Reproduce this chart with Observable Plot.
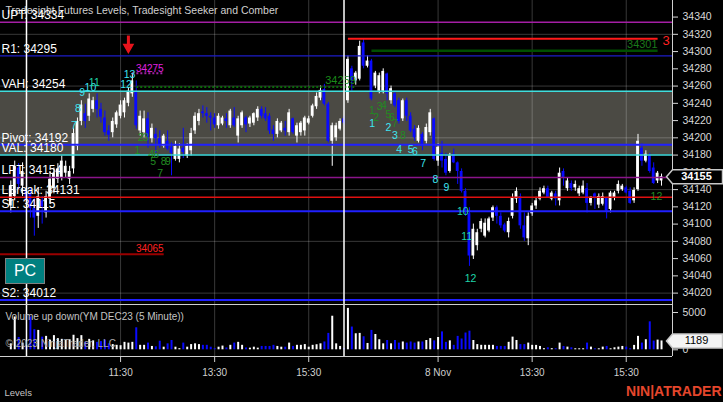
<!DOCTYPE html>
<html><head><meta charset="utf-8">
<script src="https://cdn.jsdelivr.net/npm/d3@7"></script>
<script src="https://cdn.jsdelivr.net/npm/@observablehq/plot@0.6"></script>
<style>
html,body{margin:0;padding:0;background:#000;}
#wrap{position:relative;width:723px;height:402px;overflow:hidden;background:#000;}
#wrap svg{display:block;}
#pc{position:absolute;z-index:2;left:5px;top:258px;width:40px;height:26px;background:#008080;border:1px solid #808080;color:#fff;font:16px "Liberation Sans",Arial,sans-serif;display:flex;align-items:center;justify-content:center;box-sizing:border-box;}
</style></head><body><div id="wrap"><div id="pc">PC</div></div>
<script>
// ---------- DATA ----------
const firstBar = -4; // bar index of first candle (index 0 = 9:30 Nov 7, 5-minute bars)
const opens = [
34121,34132,34165,34144,34138,34135,34118,34109,34127,34113,
34129,34141,34152,34154,34159,34152,34164,34190,34219,34228,
34225,34233,34243,34233,34223,34208,34206,34215,34225,34229,
34240,34251,34254,34208,34206,34222,34199,34204,34199,34190,
34196,34189,34175,34175,34188,34179,34185,34208,34219,34230,
34228,34225,34223,34214,34216,34222,34214,34223,34202,34214,
34223,34216,34217,34223,34233,34228,34225,34209,34204,34208,
34211,34206,34222,34202,34206,34208,34217,34225,34236,34246,
34256,34239,34196,34200,34210,34222,34243,34280,34266,34268,
34310,34283,34289,34260,34254,34254,34274,34243,34251,34243,
34222,34243,34225,34210,34196,34204,34196,34206,34222,34173,
34182,34175,34161,34181,34171,34161,34138,34112,34063,34075,
34094,34086,34092,34107,34119,34109,34099,34090,34109,34129,
34132,34098,34083,34112,34121,34129,34136,34141,34129,34135,
34127,34161,34141,34147,34142,34135,34136,34141,34124,34135,
34122,34123,34130,34117,34130,34138,34140,34142,34138,34127,
34140,34188,34173,34179,34165,34150,34150];
const highs = [
34150,34173,34170,34171,34148,34142,34130,34142,34132,34138,
34161,34165,34170,34179,34173,34167,34211,34223,34243,34239,
34251,34247,34251,34240,34231,34214,34223,34231,34243,34246,
34258,34275,34266,34231,34231,34229,34216,34211,34208,34204,
34208,34194,34196,34193,34211,34193,34211,34229,34233,34237,
34235,34229,34228,34228,34225,34228,34233,34235,34225,34231,
34225,34225,34229,34236,34236,34235,34228,34214,34222,34219,
34219,34233,34223,34217,34219,34225,34225,34239,34252,34260,
34262,34241,34217,34217,34222,34225,34295,34283,34277,34312,
34315,34295,34291,34277,34275,34280,34275,34260,34254,34246,
34245,34246,34229,34214,34214,34206,34216,34233,34223,34193,
34196,34182,34182,34187,34172,34164,34141,34119,34100,34094,
34106,34106,34108,34121,34121,34113,34101,34107,34135,34142,
34135,34113,34113,34124,34131,34142,34144,34144,34138,34138,
34165,34164,34153,34150,34150,34144,34150,34147,34132,34136,
34135,34136,34131,34138,34138,34150,34146,34144,34142,34142,
34204,34193,34185,34182,34171,34161,34158];
const lows = [
34113,34127,34140,34132,34120,34107,34086,34095,34100,34107,
34123,34135,34147,34150,34154,34146,34158,34185,34214,34211,
34219,34229,34223,34217,34202,34196,34200,34211,34222,34223,
34236,34247,34210,34202,34200,34188,34194,34182,34188,34188,
34185,34156,34173,34171,34176,34176,34179,34204,34214,34223,
34217,34208,34211,34210,34214,34211,34211,34212,34194,34211,
34206,34212,34214,34219,34222,34219,34204,34196,34200,34206,
34202,34202,34204,34194,34202,34202,34215,34223,34233,34243,
34237,34194,34167,34196,34208,34215,34240,34254,34261,34266,
34280,34281,34243,34257,34251,34251,34243,34239,34235,34216,
34219,34219,34206,34196,34194,34185,34193,34202,34173,34167,
34165,34156,34159,34170,34146,34136,34109,34051,34059,34069,
34090,34084,34090,34103,34100,34095,34090,34084,34106,34124,
34094,34080,34075,34109,34117,34127,34134,34130,34127,34121,
34121,34144,34138,34138,34138,34132,34134,34113,34121,34117,
34118,34121,34106,34113,34127,34135,34138,34135,34123,34124,
34138,34167,34171,34159,34146,34147,34144];
const closes = [
34144,34167,34146,34161,34128,34118,34107,34132,34120,34132,
34152,34159,34164,34173,34167,34161,34205,34219,34238,34219,
34245,34243,34233,34224,34206,34203,34219,34229,34238,34243,
34254,34266,34214,34225,34222,34201,34211,34199,34192,34202,
34187,34182,34190,34187,34183,34190,34205,34225,34228,34228,
34225,34223,34215,34225,34223,34219,34231,34214,34222,34229,
34215,34223,34228,34233,34225,34222,34208,34204,34219,34217,
34208,34229,34206,34214,34217,34223,34222,34237,34248,34255,
34239,34196,34214,34214,34219,34217,34291,34266,34275,34306,
34283,34289,34245,34275,34272,34277,34251,34257,34237,34219,
34243,34225,34208,34200,34211,34190,34212,34229,34175,34189,
34173,34159,34179,34171,34161,34138,34115,34063,34094,34090,
34103,34101,34106,34119,34109,34098,34092,34103,34130,34138,
34098,34084,34109,34121,34127,34138,34141,34131,34136,34129,
34159,34153,34150,34141,34146,34141,34144,34124,34131,34130,
34132,34132,34115,34136,34136,34146,34144,34136,34124,34139,
34196,34173,34181,34161,34147,34159,34155];
const volumes = [
800,4400,1650,900,500,4400,2700,2600,1700,1800,
1300,1900,1500,1400,1250,1350,1950,1500,1900,1000,
1400,1200,1000,1100,1300,800,700,600,550,1000,
900,1000,2950,600,600,900,450,400,1150,350,
800,1250,350,150,900,350,700,800,700,600,
600,350,150,350,500,250,600,900,1000,600,
250,220,350,220,450,450,450,600,450,350,
350,900,450,600,600,700,350,600,680,800,
1050,2200,4500,800,450,150,5550,3050,2150,2200,
1750,850,2600,2050,1350,800,1250,800,1250,900,
1050,900,1050,900,1050,1050,1250,1500,1200,1650,
2400,1000,1200,600,1800,1450,2250,2500,1250,700,
600,600,600,600,450,450,450,1000,1700,1250,
700,700,900,600,590,450,150,270,150,150,
900,450,360,270,135,135,135,900,360,135,
135,360,450,135,270,360,450,360,135,590,
1800,900,1350,3750,1170,1300,1189];

const sessionStarts = [0, 81];
const timeTickBars = [24, 48, 72, 105, 129, 153];
const timeTickLabels = ["11:30", "13:30", "15:30", "8 Nov", "13:30", "15:30"];
const priceTicks = [34020,34040,34060,34080,34100,34120,34140,34160,34180,34200,34220,34240,34260,34280,34300,34320,34340];
const gridPrices = [34020, 34080, 34140, 34200, 34260, 34320];
const volumeTicks = [0, 5000];

const levelNames = ["UPT", "R1", "VAH", "Pivot", "VAL", "LPT", "LBreak", "S1", "S2"];
const levelValues = [34334, 34295, 34254, 34192, 34180, 34154, 34131, 34115, 34012];
const valueArea = [34180, 34254];

const segPrices = [34275, 34259, 34065, 34315, 34301];
const segStart  = [27, 28, -7, 82, 88];
const segEnd    = [35, 84, 35, 161, 161];
const segLabels = ["34275", "34259", "34065", "3", "34301"];
const segKinds  = ["setupHigh", "comberLevel", "priorLow", "targetCount", "target"];

const sigText  = ["7","8","9","10","11","12","13",
                  "1","2","3","4","6","5","8","9","7",
                  "1","2","3","4","5","6","7","8","12",
                  "1","2","3","4","5","6","7","8","9","10","11","12"];
const sigBar   = [12.1,13.1,14.2,16.3,17.3,25.4,26.3,
                  28.3,29.1,30.4,31.8,33.1,32.3,35.0,36.1,34.1,
                  88.1,89.2,90.1,91.2,92.3,93.2,94.0,96.0,160.7,
                  88.2,92.3,94.0,95.1,98.0,99.1,101.2,104.3,107.1,111.3,112.3,113.3];
const sigPrice = [34214,34234,34252,34258,34264,34262,34273,
                  34185,34200,34200,34180,34180,34173,34172,34172,34159,
                  34231,34224,34236,34237,34227,34224,34216,34202,34132,
                  34217,34212,34202,34186,34186,34184,34170,34151,34142,34114,34086,34037];
const sigKind  = ["setup","setup","setup","setup","setupLate","setup","setup",
                  "comber","comber","comber","comber","comber","comber","comber","comber","comber",
                  "comber","comber","comber","comber","comber","comber","comber","comber","comber",
                  "setup","setup","setup","setup","setup","setup","setup","setup","setup","setupLate","setupLate","setupLate"];

const arrowBars = [26];
const arrowPrices = [34305];

// ---------- STYLE ----------
const FONT = '"Liberation Sans", Arial, sans-serif';
const UP = "#ffffff", DOWN = "#0a0aff";
const xDomain = [-6.63, 164.8];
const priceDomain = [34006.8, 34359.2];
const volDomain = [-898, 6072];
const LEVEL_STYLE = {
  UPT: ["#a41ea4", 1.5], R1: ["#1c1cc8", 1.2], VAH: ["#3fdede", 1.5], Pivot: ["#2020ff", 2],
  VAL: ["#3fdede", 1.5], LPT: ["#8a148a", 1.5], LBreak: ["#e01010", 1.5], S1: ["#2020ff", 2], S2: ["#2020ff", 2]
};
const SEG_STYLE = {
  setupHigh:   {stroke: "#a020a0", width: 2, dash: "2,2", text: "#e020e0", anchor: "end", dx: 0, dy: -4.5, size: 10, weight: "normal"},
  comberLevel: {stroke: "#0a6a0a", width: 2, dash: "2,2", text: "#1a8a1a", anchor: "end", dx: 0, dy: -6, size: 11, weight: "normal"},
  priorLow:    {stroke: "#9a0000", width: 2, dash: null, text: "#ff2020", anchor: "end", dx: 0, dy: -5, size: 10, weight: "normal"},
  targetCount: {stroke: "#ff1a1a", width: 2, dash: null, text: "#ff2020", anchor: "start", dx: 5, dy: 2, size: 13, weight: "normal"},
  target:      {stroke: "#004f00", width: 2.5, dash: null, text: "#1a7a1a", anchor: "end", dx: 0, dy: -6, size: 11, weight: "normal"}
};
const SIG_COLOR = {setup: "#3de6f2", setupLate: "#1fd6aa", comber: "#228b22"};

// ---------- DERIVED ----------
const bars = opens.map((o, k) => ({i: firstBar + k, o, h: highs[k], l: lows[k], c: closes[k], v: volumes[k]}));
const upBars = bars.filter(d => d.c >= d.o);
const downBars = bars.filter(d => d.c < d.o);
const levels = levelNames.map((name, k) => ({name, value: levelValues[k]}));
const segments = segPrices.map((price, k) => ({price, start: segStart[k], end: segEnd[k], label: segLabels[k], kind: segKinds[k]}));
const signals = sigText.map((t, k) => ({text: t, i: sigBar[k], price: sigPrice[k], kind: sigKind[k]}));
const arrows = arrowBars.map((i, k) => ({i, price: arrowPrices[k]}));
const last = bars[bars.length - 1];

const labelShape = {draw(ctx) { ctx.moveTo(-6, 0); ctx.lineTo(0, -7); ctx.lineTo(50, -7); ctx.lineTo(50, 7); ctx.lineTo(0, 7); ctx.closePath(); }};
const gridStyle = {stroke: "#ffffff", strokeOpacity: 0.22};

function candles(data, color) {
  return [
    Plot.ruleX(data, {x: "i", y1: "l", y2: "h", stroke: color, strokeWidth: 1}),
    Plot.rect(data, {x1: d => d.i - 0.36, x2: d => d.i + 0.36, y1: "o", y2: "c", fill: color})
  ];
}

// ---------- PRICE PANEL ----------
const priceChart = Plot.plot({
  width: 723, height: 304, marginLeft: 0, marginRight: 51, marginTop: 0, marginBottom: 0,
  style: {background: "#000", color: "#d8d8d8", fontFamily: FONT},
  x: {domain: xDomain, axis: null, label: null},
  y: {domain: priceDomain, axis: null, label: null},
  marks: [
    Plot.rect([valueArea], {x1: () => xDomain[0], x2: () => xDomain[1], y1: d => d[0], y2: d => d[1], fill: "#4b4a44"}),
    Plot.ruleY(gridPrices, gridStyle),
    Plot.ruleX(timeTickBars, gridStyle),
    ...candles(upBars, UP),
    ...candles(downBars, DOWN),
    ...levels.map(d => Plot.ruleY([d.value], {stroke: LEVEL_STYLE[d.name][0], strokeWidth: LEVEL_STYLE[d.name][1]})),
    ...segments.map(s => {
      const st = SEG_STYLE[s.kind];
      return Plot.link([s], {x1: "start", x2: "end", y1: "price", y2: "price", stroke: st.stroke, strokeWidth: st.width, strokeDasharray: st.dash});
    }),
    ...segments.map(s => {
      const st = SEG_STYLE[s.kind];
      return Plot.text([s], {x: "end", y: "price", text: "label", textAnchor: st.anchor, dx: st.dx, dy: st.dy, fill: st.text, fontSize: st.size, fontWeight: st.weight});
    }),
    Plot.ruleX(sessionStarts, {stroke: "#ffffff", strokeWidth: 1.5}),
    ...Object.keys(SIG_COLOR).map(kind =>
      Plot.text(signals.filter(d => d.kind === kind), {x: "i", y: "price", text: "text", fill: SIG_COLOR[kind], fontSize: 10.5})),
    Plot.ruleX(arrows, {x: "i", y1: d => d.price + 3, y2: d => d.price + 13, stroke: "#e8141c", strokeWidth: 3}),
    Plot.dot(arrows, {x: "i", y: "price", symbol: "triangle", rotate: 180, r: 3.4, fill: "#e8141c", stroke: "#e8141c"}),
    Plot.text(["Tradesight Futures Levels, Tradesight Seeker and Comber"], {frameAnchor: "top-left", text: d => d, dx: 5, dy: 6, fill: "#cfcfcf", fontSize: 10.5}),
    Plot.text(levels, {y: "value", frameAnchor: "left", text: d => `${d.name}: ${d.value}`, textAnchor: "start", dx: 1, dy: -7, fill: "#ffffff", fontSize: 12}),
    Plot.ruleX([0], {x: () => xDomain[1], stroke: "#cfcfcf"}),
    Plot.axisY({ticks: priceTicks, anchor: "right", label: null, tickSize: 5, tickPadding: 5, tickFormat: d => `${d}`, fontSize: 10.5, color: "#d8d8d8"}),
    Plot.dot([last], {x: () => xDomain[1], y: "c", symbol: labelShape, fill: "#000", stroke: "#c8c8c8"}),
    Plot.text([last], {x: () => xDomain[1], y: "c", text: d => `${d.c}`, dx: 24, fill: "#fff", fontWeight: "bold", fontSize: 11})
  ]
});

// ---------- VOLUME PANEL ----------
const volChart = Plot.plot({
  width: 723, height: 98, marginLeft: 0, marginRight: 51, marginTop: 0, marginBottom: 46,
  style: {background: "#000", color: "#d8d8d8", fontFamily: FONT},
  x: {domain: xDomain, axis: null, label: null},
  y: {domain: volDomain, axis: null, label: null},
  marks: [
    Plot.ruleX(timeTickBars, gridStyle),
    Plot.ruleX(upBars, {x: "i", y1: () => 0, y2: "v", stroke: UP, strokeWidth: 2}),
    Plot.ruleX(downBars, {x: "i", y1: () => 0, y2: "v", stroke: DOWN, strokeWidth: 2}),
    Plot.ruleX(sessionStarts, {stroke: "#ffffff", strokeWidth: 1.5}),
    Plot.ruleY([0], {y: () => volDomain[1], stroke: "#cfcfcf"}),
    Plot.ruleY([0], {y: () => volDomain[0], stroke: "#cfcfcf"}),
    Plot.ruleX([0], {x: () => xDomain[1], stroke: "#cfcfcf"}),
    Plot.axisY({ticks: volumeTicks, anchor: "right", label: null, tickSize: 5, tickPadding: 5, tickFormat: d => `${d}`, fontSize: 10.5, color: "#d8d8d8"}),
    Plot.axisX({ticks: timeTickBars, anchor: "bottom", label: null, tickSize: 6, tickPadding: 6, tickFormat: d => timeTickLabels[timeTickBars.indexOf(d)], fontSize: 10, color: "#cfcfcf"}),
    Plot.dot([last], {x: () => xDomain[1], y: "v", symbol: labelShape, fill: "#f4f4f4", stroke: "#c8c8c8"}),
    Plot.text([last], {x: () => xDomain[1], y: "v", text: d => `${d.v}`, dx: 24, fill: "#000", fontSize: 11}),
    Plot.text(["Volume up down(YM DEC23 (5 Minute))"], {frameAnchor: "top-left", text: d => d, dx: 5, dy: 8, fill: "#c4c4c4", fontSize: 10}),
    Plot.text(["© 2023 NinjaTrader, LLC"], {frameAnchor: "top-left", text: d => d, dx: 5, dy: 35, fill: "#a8a8a8", fontSize: 10}),
    Plot.text(["Levels"], {frameAnchor: "top-left", text: d => d, dx: 4, dy: 85, fill: "#c4c4c4", fontSize: 9.5}),
    Plot.text(["NIN|ATRADER"], {frameAnchor: "top-right", text: d => d, textAnchor: "end", dx: 49, dy: 82, fill: "#e5462c", fontSize: 14, fontWeight: "bold"})
  ]
});

const wrap = document.getElementById("wrap");
wrap.insertBefore(volChart, wrap.firstChild);
wrap.insertBefore(priceChart, wrap.firstChild);
</script></body></html>
